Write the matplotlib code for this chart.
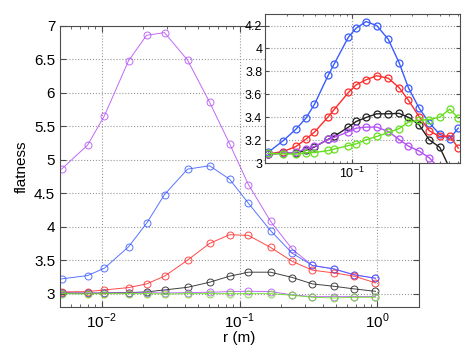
import matplotlib
matplotlib.use("Agg")
import matplotlib.pyplot as plt
from matplotlib.ticker import FixedLocator, LogLocator, NullFormatter, FuncFormatter

plt.rcParams['font.family'] = ['Liberation Sans', 'DejaVu Sans']
plt.rcParams['mathtext.fontset'] = 'custom'
plt.rcParams['mathtext.rm'] = 'Liberation Sans'

# main panel: separation r (m) and flatness of the six curves
r_main = [0.00513, 0.00793, 0.0105, 0.0157, 0.0212, 0.0286, 0.0420, 0.0607,
          0.0847, 0.116, 0.168, 0.242, 0.338, 0.480, 0.681, 0.967]
purple_hi = [4.86, 5.22, 5.66, 6.48, 6.86, 6.90, 6.49, 5.86,
             5.24, 4.63, 4.08, 3.66, 3.42, 3.37, 3.28, 3.23]
blue_main = [3.22, 3.27, 3.38, 3.70, 4.05, 4.48, 4.86, 4.91,
             4.71, 4.35, 3.94, 3.60, 3.42, 3.37, 3.28, 3.23]
red_main = [3.025, 3.03, 3.055, 3.09, 3.145, 3.26, 3.50, 3.75,
            3.88, 3.87, 3.69, 3.48, 3.35, 3.31, 3.26, 3.16]
black_main = [3.01, 3.005, 3.01, 3.015, 3.025, 3.055, 3.094, 3.17,
              3.26, 3.32, 3.32, 3.24, 3.145, 3.11, 3.07, 3.034]
purple_lo = [3.01, 3.01, 3.01, 3.01, 3.015, 3.01, 3.015, 3.02,
             3.03, 3.035, 3.03, 2.98, 2.955, 2.955, 2.955, 2.955]
green_main = [3.0, 2.995, 3.0, 3.0, 3.0, 2.995, 3.0, 3.0,
              3.0, 3.0, 3.0, 2.975, 2.945, 2.935, 2.945, 2.945]

# inset panel
r_inset = [0.0213, 0.0281, 0.0354, 0.0425, 0.0498, 0.0644, 0.0713, 0.0931, 0.1075,
           0.129, 0.157, 0.194, 0.237, 0.282, 0.343, 0.414, 0.502, 0.604, 0.706]
blue_in = [3.096, 3.197, 3.296, 3.392, 3.513, 3.770, 3.861, 4.099, 4.177,
           4.235, 4.200, 4.081, 3.877, 3.656, 3.480, 3.351, 3.251, 3.214, 3.305]
red_in = [3.081, 3.101, 3.145, 3.209, 3.270, 3.406, 3.465, 3.616, 3.683,
          3.727, 3.762, 3.741, 3.659, 3.548, 3.406, 3.282, 3.232, 3.238, 3.131]
black_in = [3.08, 3.085, 3.09, 3.11, 3.14, 3.209, 3.232, 3.314, 3.363,
            3.398, 3.430, 3.430, 3.434, 3.399, 3.334, 3.203, 3.138, 2.953, 2.85]
purple_in = [3.081, 3.087, 3.093, 3.125, 3.145, 3.206, 3.223, 3.273, 3.305,
             3.314, 3.314, 3.276, 3.206, 3.148, 3.105, 3.046, 2.95, 2.88, 2.82]
green_in = [3.084, 3.081, 3.078, 3.090, 3.092, 3.110, 3.122, 3.153, 3.168,
            3.203, 3.232, 3.267, 3.300, 3.358, 3.373, 3.380, 3.401, 3.471, 3.392]

c_purple = '#b550f5'
c_blue = '#3a5cff'
c_red = '#ff2a2a'
c_black = '#202020'
c_green = '#66e01e'

fig = plt.figure(figsize=(4.63, 3.47), dpi=100)

ax = fig.add_axes([0.1296, 0.1153, 0.7754, 0.810])
mk = dict(marker='o', mfc='none', ms=5, mew=0.7, lw=0.7)
ax.plot(r_main, purple_hi, color=c_purple, alpha=0.85, **mk)
ax.plot(r_main, blue_main, color=c_blue, alpha=0.85, **mk)
ax.plot(r_main, red_main, color=c_red, alpha=0.85, **mk)
ax.plot(r_main, black_main, color=c_black, alpha=0.85, **mk)
ax.plot(r_main, purple_lo, color=c_purple, alpha=0.85, **mk)
ax.plot(r_main, green_main, color=c_green, alpha=0.85, **mk)
ax.set_xscale('log')
ax.set_xlim(0.005, 2.0)
ax.set_ylim(2.8, 7)
ax.yaxis.set_major_locator(FixedLocator([3, 3.5, 4, 4.5, 5, 5.5, 6, 6.5, 7]))
ax.yaxis.set_major_formatter(FuncFormatter(lambda v, p: ('%g' % v)))
ax.xaxis.set_major_locator(FixedLocator([0.01, 0.1, 1.0]))
ax.xaxis.set_major_formatter(FuncFormatter(lambda v, p: r'$10^{%d}$' % round(__import__('math').log10(v))))
ax.xaxis.set_minor_locator(LogLocator(base=10, subs=range(2, 10)))
ax.xaxis.set_minor_formatter(NullFormatter())
ax.grid(True, which='major', linestyle=':', color='0.6', lw=0.8)
ax.tick_params(which='both', direction='in', top=True, right=True, labelsize=11, color='0.3')
ax.tick_params(which='major', length=4)
ax.tick_params(which='minor', length=2)
for s in ax.spines.values():
    s.set_color('0.3')
ax.set_xlabel('r (m)', fontsize=11, labelpad=0)
ax.set_ylabel('flatness', fontsize=11, labelpad=4)

ins = fig.add_axes([0.5724, 0.530, 0.4212, 0.4294])
mk2 = dict(marker='o', mfc='none', ms=5, mew=0.9, lw=1.0)
ins.plot(r_inset, blue_in, color=c_blue, **mk2)
ins.plot(r_inset, red_in, color=c_red, **mk2)
ins.plot(r_inset, black_in, color=c_black, **mk2)
ins.plot(r_inset, purple_in, color=c_purple, **mk2)
ins.plot(r_inset, green_in, color=c_green, **mk2)
ins.set_xscale('log')
ins.set_xlim(0.02, 0.73)
ins.set_ylim(3.0, 4.3)
ins.yaxis.set_major_locator(FixedLocator([3, 3.2, 3.4, 3.6, 3.8, 4, 4.2]))
ins.yaxis.set_major_formatter(FuncFormatter(lambda v, p: ('%g' % v)))
ins.xaxis.set_major_locator(FixedLocator([0.1]))
ins.xaxis.set_major_formatter(FuncFormatter(lambda v, p: r'$10^{-1}$'))
ins.xaxis.set_minor_locator(LogLocator(base=10, subs=range(2, 10)))
ins.xaxis.set_minor_formatter(NullFormatter())
ins.grid(True, which='major', linestyle=':', color='0.6', lw=0.8)
ins.tick_params(which='both', direction='in', top=True, right=True, labelsize=9, color='0.3', pad=2)
ins.tick_params(which='major', length=3)
ins.tick_params(which='minor', length=1.5)
for s in ins.spines.values():
    s.set_color('0.3')

fig.savefig('out.png', dpi=100)
